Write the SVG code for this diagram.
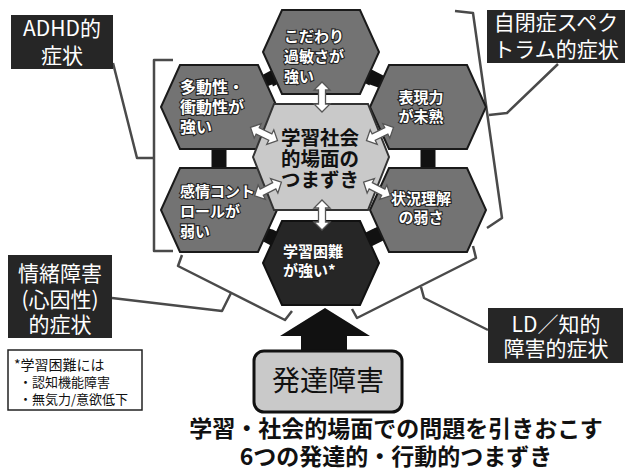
<svg xmlns="http://www.w3.org/2000/svg" width="629" height="473" viewBox="0 0 629 473">
<style>
text{font-family:"Noto Sans CJK JP","Noto Sans",sans-serif}
.hx{fill:#737373;stroke:#1a1a1a;stroke-width:2}
.hxd{fill:#262626;stroke:#111;stroke-width:2}
.ht{font-size:15px;fill:#fff;stroke:#222;stroke-width:2.2;paint-order:stroke;font-weight:bold}
.lab{fill:#262626}
.lt{font-size:21px;fill:#fff;text-anchor:middle}
.br{fill:none;stroke:#4a4a4a;stroke-width:2.5;stroke-linejoin:round}
.conn{stroke:#111;stroke-width:15}
.spk{stroke:#fff;stroke-width:9}
.ct{font-size:19.5px;font-weight:bold;fill:#111;text-anchor:middle}
.cap{font-size:23px;font-weight:bold;fill:#111;text-anchor:middle}
</style>
<defs>
<polygon id="hex" points="-58,0 -39,-42 39,-42 58,0 39,42 -39,42"/>
<path id="darr" d="M-15,0 L-7,-8 L-7,-3.5 L7,-3.5 L7,-8 L15,0 L7,8 L7,3.5 L-7,3.5 L-7,8 Z" fill="#fff" stroke="#555" stroke-width="1.3"/>
</defs>
<rect width="629" height="473" fill="#fff"/>

<g id="connectors">
<line class="conn" x1="219" y1="107" x2="321" y2="52"/>
<line class="conn" x1="321" y1="52" x2="428" y2="107"/>
<line class="conn" x1="219" y1="107" x2="219" y2="210"/>
<line class="conn" x1="428" y1="107" x2="428" y2="210"/>
<line class="conn" x1="219" y1="210" x2="321" y2="263"/>
<line class="conn" x1="428" y1="210" x2="321" y2="263"/>
<polygon points="253,157 274,104 368,104 389,157 368,210 274,210" fill="none" stroke="#fff" stroke-width="12" stroke-linejoin="round"/>
<line class="spk" x1="253" y1="157" x2="229" y2="157"/>
<line class="spk" x1="389" y1="157" x2="413" y2="157"/>
<line class="spk" x1="274" y1="104" x2="268" y2="86"/>
<line class="spk" x1="368" y1="104" x2="374" y2="86"/>
<line class="spk" x1="274" y1="210" x2="268" y2="228"/>
<line class="spk" x1="368" y1="210" x2="374" y2="228"/>
<polygon points="325,308 280,336 301,336 301,354 347,354 347,336 370,336" fill="#111"/>
<polyline class="br" points="173,60 154,60 154,251 173,251"/>
<polyline class="br" points="113,63 137,158 154,158"/>
<polyline class="br" points="455,11 473,13 502,218 487,228"/>
<polyline class="br" points="558,64 507,113 489,115"/>
<polyline class="br" points="182,255 178,266 285,320 292,311"/>
<polyline class="br" points="112,298 222,311 231,293"/>
<polyline class="br" points="473,246 476,258 357,318 352,309"/>
<polyline class="br" points="488,330 424,298 421,287"/>
</g>

<g id="hex-top">
<use href="#hex" class="hx" x="321" y="52"/>
<text class="ht" x="284" y="42">こだわり</text>
<text class="ht" x="284" y="62">過敏さが</text>
<text class="ht" x="284" y="82">強い</text>
</g>
<g id="hex-ul">
<use href="#hex" class="hx" x="219" y="107"/>
<text class="ht" x="180" y="93" style="font-size:16px">多動性・</text>
<text class="ht" x="180" y="113" style="font-size:16px">衝動性が</text>
<text class="ht" x="180" y="133" style="font-size:16px">強い</text>
</g>
<g id="hex-ll">
<use href="#hex" class="hx" x="219" y="210"/>
<text class="ht" x="180" y="197">感情コント</text>
<text class="ht" x="180" y="217">ロールが</text>
<text class="ht" x="180" y="237">弱い</text>
</g>
<g id="hex-ur">
<use href="#hex" class="hx" x="428" y="107"/>
<text class="ht" x="421" y="103" text-anchor="middle">表現力</text>
<text class="ht" x="421" y="122" text-anchor="middle">が未熟</text>
</g>
<g id="hex-lr">
<use href="#hex" class="hx" x="428" y="210"/>
<text class="ht" x="421" y="204" text-anchor="middle">状況理解</text>
<text class="ht" x="421" y="223" text-anchor="middle">の弱さ</text>
</g>
<g id="hex-bottom">
<use href="#hex" class="hxd" x="321" y="263"/>
<text class="ht" x="283" y="257">学習困難</text>
<text class="ht" x="283" y="276">が強い*</text>
</g>
<g id="hex-center">
<polygon points="253,157 274,104 368,104 389,157 368,210 274,210" fill="#c9c9c9" stroke="#333" stroke-width="2"/>
<text class="ct" x="320" y="145">学習社会</text>
<text class="ct" x="320" y="166">的場面の</text>
<text class="ct" x="320" y="187">つまずき</text>
</g>
<g id="arrows">
<use href="#darr" transform="translate(322,97) rotate(90)"/>
<use href="#darr" transform="translate(322,215) rotate(90)"/>
<use href="#darr" transform="translate(264,134) rotate(26)"/>
<use href="#darr" transform="translate(380,134) rotate(-26)"/>
<use href="#darr" transform="translate(268,189) rotate(-27)"/>
<use href="#darr" transform="translate(377,189) rotate(27)"/>
</g>

<g id="label-adhd">
<rect class="lab" x="11" y="15" width="102" height="54"/>
<text class="lt" x="62" y="36">ADHD的</text>
<text class="lt" x="62" y="63">症状</text>
</g>
<g id="label-asd">
<rect class="lab" x="487" y="10" width="138" height="53"/>
<text class="lt" x="556" y="30">自閉症スペク</text>
<text class="lt" x="556" y="57">トラム的症状</text>
</g>
<g id="label-emo">
<rect class="lab" x="8" y="255" width="104" height="83"/>
<text class="lt" x="60" y="281">情緒障害</text>
<text class="lt" x="60" y="307">(心因性)</text>
<text class="lt" x="60" y="332">的症状</text>
</g>
<g id="label-ld">
<rect class="lab" x="488" y="308" width="135" height="55"/>
<text class="lt" x="556" y="332">LD／知的</text>
<text class="lt" x="556" y="356">障害的症状</text>
</g>
<g id="note">
<rect x="8" y="350" width="134" height="60" fill="#fff" stroke="#222" stroke-width="1.5"/>
<text x="14" y="370" font-size="14" fill="#111">*学習困難には</text>
<text x="19" y="387" font-size="13" fill="#111">・認知機能障害</text>
<text x="19" y="404" font-size="13" fill="#111">・無気力/意欲低下</text>
</g>
<g id="hattatsu">
<rect x="254" y="351" width="148" height="61" rx="10" fill="#c9c9c9" stroke="#111" stroke-width="3"/>
<text x="328" y="391" text-anchor="middle" font-size="28" fill="#111">発達障害</text>
</g>
<g id="caption">
<text class="cap" x="396" y="437">学習・社会的場面での問題を引きおこす</text>
<text class="cap" x="396" y="465">6つの発達的・行動的つまずき</text>
</g>
</svg>
